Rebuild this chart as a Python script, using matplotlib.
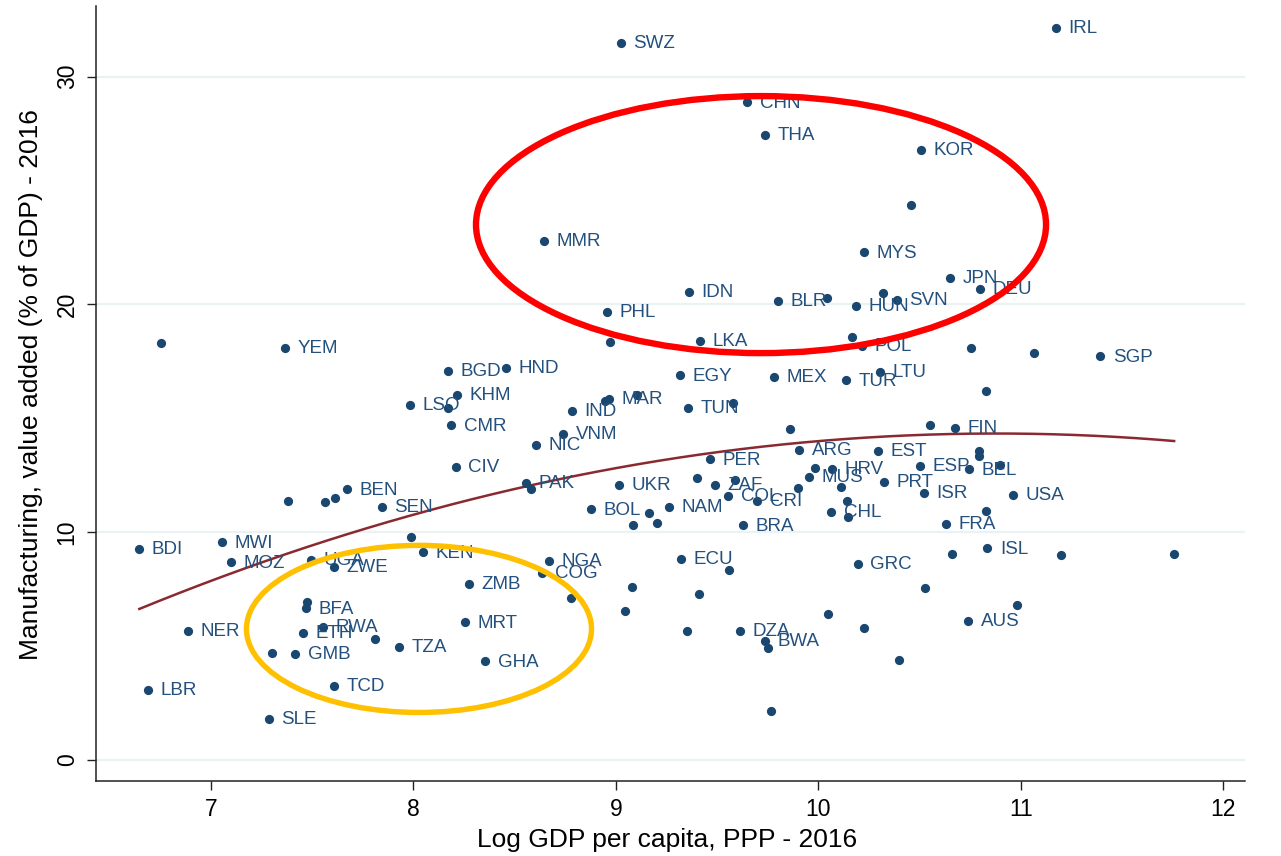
import numpy as np
import matplotlib
matplotlib.use('Agg')
import matplotlib.pyplot as plt
from matplotlib.patches import Ellipse

# country code ('' = point without a label), log GDP per capita, manufacturing share
iso = ['SWZ', 'IRL', 'CHN', 'THA', 'KOR', 'MMR', 'MYS', 'JPN', 'DEU', 'IDN',
       'BLR', 'HUN', 'SVN', 'PHL', 'LKA', 'POL', 'YEM', 'SGP', 'BGD', 'HND',
       'EGY', 'MEX', 'LTU', 'TUR', 'KHM', 'MAR', 'LSO', 'IND', 'TUN', 'CMR',
       'VNM', 'FIN', 'NIC', 'ARG', 'EST', 'PER', 'CIV', 'ESP', 'HRV', 'BEL',
       'MUS', 'PRT', 'PAK', 'UKR', 'ZAF', 'BEN', 'COL', 'CRI', 'ISR', 'USA',
       'SEN', 'BOL', 'NAM', 'CHL', 'FRA', 'BRA', 'BDI', 'MWI', 'KEN', 'ISL',
       'MOZ', 'UGA', 'ZWE', 'NGA', 'COG', 'ECU', 'GRC', 'ZMB', 'BFA', 'MRT',
       'AUS', 'NER', 'RWA', 'ETH', 'DZA', 'BWA', 'GMB', 'TZA', 'GHA', 'LBR',
       'TCD', 'SLE',
       '', '', '', '', '', '', '', '', '', '',
       '', '', '', '', '', '', '', '', '', '',
       '', '', '', '', '', '', '', '', '', '',
       '', '', '', '', '', '', '', '', '', '',
       '', '', '', '', '', '', '', '', '', '',
       '', '', '']
log_gdp = [9.024, 11.174, 9.648, 9.737, 10.507, 8.645, 10.224, 10.650, 10.799, 9.360,
           9.803, 10.186, 10.387, 8.958, 9.414, 10.214, 7.368, 11.393, 8.173, 8.458,
           9.316, 9.781, 10.303, 10.137, 8.217, 8.965, 7.984, 8.784, 9.358, 8.188,
           8.741, 10.675, 8.606, 9.905, 10.295, 9.467, 8.209, 10.501, 10.069, 10.746,
           9.956, 10.324, 8.557, 9.017, 9.490, 7.671, 9.556, 9.699, 10.522, 10.960,
           7.845, 8.877, 9.264, 10.063, 10.630, 9.628, 6.647, 7.055, 8.049, 10.835,
           7.098, 7.495, 7.608, 8.669, 8.636, 9.322, 10.195, 8.275, 7.470, 8.254,
           10.741, 6.886, 7.556, 7.454, 9.612, 9.737, 7.417, 7.928, 8.356, 6.690,
           7.608, 7.287,
           10.456, 10.041, 10.318, 8.971, 10.165, 6.754, 10.754, 11.067, 10.827, 8.173,
           8.948, 9.103, 9.577, 9.860, 10.552, 10.795, 10.795, 9.984, 10.112, 9.402,
           9.590, 9.898, 10.140, 10.145, 10.897, 10.827, 9.164, 9.205, 9.083, 7.381,
           7.562, 7.613, 8.581, 7.990, 10.659, 11.197, 11.757, 9.560, 9.082, 9.409,
           8.777, 9.045, 10.049, 10.528, 10.980, 9.352, 10.224, 9.750, 10.398, 9.765,
           7.477, 7.809, 7.301]
manuf = [31.47, 32.15, 28.87, 27.44, 26.79, 22.79, 22.28, 21.15, 20.66, 20.53,
         20.16, 19.94, 20.19, 19.66, 18.40, 18.17, 18.08, 17.71, 17.08, 17.20,
         16.88, 16.82, 17.04, 16.66, 16.02, 15.83, 15.58, 15.33, 15.46, 14.68,
         14.32, 14.58, 13.82, 13.61, 13.55, 13.19, 12.87, 12.90, 12.76, 12.75,
         12.43, 12.21, 12.16, 12.07, 12.06, 11.87, 11.59, 11.37, 11.70, 11.61,
         11.11, 10.99, 11.11, 10.89, 10.35, 10.29, 9.24, 9.54, 9.10, 9.28,
         8.66, 8.78, 8.46, 8.72, 8.21, 8.80, 8.60, 7.73, 6.64, 6.03,
         6.10, 5.66, 5.84, 5.57, 5.66, 5.22, 4.64, 4.96, 4.31, 3.05,
         3.22, 1.79,
         24.38, 20.29, 20.48, 18.34, 18.58, 18.29, 18.08, 17.85, 16.20, 15.46,
         15.74, 16.02, 15.65, 14.51, 14.71, 13.57, 13.33, 12.82, 11.99, 12.37,
         12.28, 11.92, 11.37, 10.67, 12.94, 10.93, 10.82, 10.40, 10.29, 11.37,
         11.31, 11.50, 11.87, 9.77, 9.04, 8.99, 9.04, 8.34, 7.59, 7.28,
         7.10, 6.54, 6.39, 7.52, 6.77, 5.66, 5.76, 4.89, 4.38, 2.13,
         6.93, 5.28, 4.69]

x_ticks = [7, 8, 9, 10, 11, 12]
y_ticks = [0, 10, 20, 30]

# hand-drawn highlight rings: (centre x, centre y, width, height)
red_ring = (9.717, 23.50, 2.815, 11.29)
gold_ring = (8.028, 5.74, 1.704, 7.34)

plt.rcParams['font.family'] = ['Liberation Sans', 'DejaVu Sans']

NAVY = '#1a476f'

fig = plt.figure(figsize=(12.81, 8.56), dpi=100)
fig.patch.set_facecolor('white')
ax = fig.add_axes([96 / 1281, 1 - 781 / 856, (1245 - 96) / 1281, (781 - 6.5) / 856])

x = np.array(log_gdp)
y = np.array(manuf)

ax.scatter(x, y, s=44, color=NAVY, linewidths=0, zorder=3)
for code, xi, yi in zip(iso, x, y):
    if code:
        ax.annotate(code, (xi, yi), xytext=(9, -0.5), textcoords='offset points',
                    ha='left', va='center', fontsize=13.5, color='#23507d', zorder=4)

# quadratic fit over the data range
coef = np.polyfit(x, y, 2)
xs = np.linspace(x.min(), x.max(), 300)
ax.plot(xs, np.polyval(coef, xs), color='#8a2a30', lw=1.8, zorder=2)

for (cx, cy, w, h), col, lw in [(red_ring, '#ff0000', 4.6), (gold_ring, '#ffc000', 3.9)]:
    ax.add_patch(Ellipse((cx, cy), w, h, fill=False, ec=col, lw=lw, zorder=5))

ax.set_xlim(6.433, 12.107)
ax.set_ylim(-0.94, 33.08)
ax.set_xticks(x_ticks)
ax.set_yticks(y_ticks)
ax.yaxis.grid(True, color='#eaf2f3', lw=1.6)
ax.set_axisbelow(True)

for s in ['top', 'right']:
    ax.spines[s].set_visible(False)
for s in ['left', 'bottom']:
    ax.spines[s].set_color('#222222')
    ax.spines[s].set_linewidth(1.1)

ax.tick_params(direction='out', length=6.5, width=1.0, color='#222222',
               labelsize=16.5, labelcolor='black', pad=6)
for lab in ax.get_yticklabels():
    lab.set_rotation(90)
    lab.set_va('center')

ax.set_xlabel('Log GDP per capita, PPP - 2016', fontsize=19)
ax.set_ylabel('Manufacturing, value added (% of GDP) - 2016', fontsize=19)
ax.xaxis.set_label_coords(0.497, -0.061)
ax.xaxis.label.set_va('top')
ax.yaxis.set_label_coords(-0.046, 0.512)

fig.savefig('out.png', dpi=100)
